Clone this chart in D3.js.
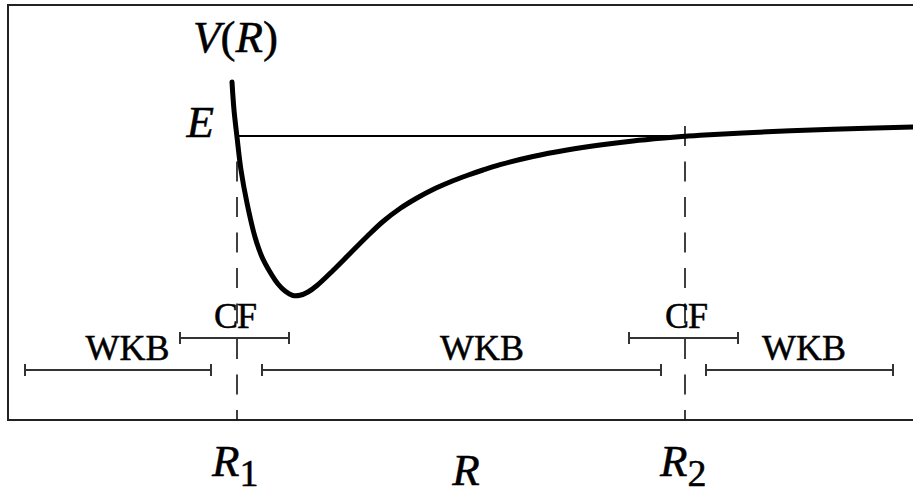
<!DOCTYPE html>
<html>
<head>
<meta charset="utf-8">
<script src="https://cdn.jsdelivr.net/npm/d3@7/dist/d3.min.js"></script>
<style>
  html, body { margin: 0; padding: 0; background: #fff; }
  svg { display: block; }
  svg text { font-family: "Liberation Serif", "Times New Roman", serif; fill: #000; stroke: #000; stroke-width: 0.5px; }
</style>
</head>
<body>
<script>
// Potential curve V(R): sampled points (R, V), energy level E = 0
const rValues = [2.24, 2.26, 2.29, 2.33, 2.39, 2.47, 2.54, 2.62, 2.70, 2.77, 2.85, 2.92, 3.00,
  3.09, 3.25, 3.42, 3.59, 3.75, 3.92, 4.09, 4.25, 4.42, 4.59, 4.75, 4.92, 5.25, 5.59, 5.92, 6.25,
  6.59, 6.77, 6.92, 7.59, 8.25, 9.05];
const vValues = [0.54, 0.26, -0.01, -0.34, -0.67, -1.01, -1.21, -1.36, -1.48, -1.55, -1.595,
  -1.593, -1.56, -1.495, -1.345, -1.175, -1.005, -0.855, -0.725, -0.62, -0.535, -0.46, -0.395,
  -0.34, -0.287, -0.205, -0.14, -0.09, -0.05, -0.018, -0.003, 0.008, 0.042, 0.067, 0.09];
const energy = 0;

// Classical turning points
const turningNames = ["1", "2"];
const turningR = [2.29, 6.77];

// Validity ranges of the approximations
const rangeLabels = ["WKB", "CF", "WKB", "CF", "WKB"];
const rangeStart = [0.17, 1.72, 2.54, 6.21, 6.98];
const rangeEnd = [2.03, 2.81, 6.53, 7.30, 8.85];
const rangeLabelR = [1.195, 2.27, 4.74, 6.78, 7.96];
const rangeLevel = [-2.34, -2.02, -2.34, -2.02, -2.34];

const W = 913, H = 495;
const x = d3.scaleLinear().domain([0, 9.05]).range([8, 913]);
const y = d3.scaleLinear().domain([-2.84, 1.31]).range([420, 5]);

const svg = d3.select("body").append("svg")
  .attr("width", W).attr("height", H);

// frame (open on the right)
svg.append("path")
  .attr("d", `M${x.range()[1] + 5},${y.range()[1]} H${x.range()[0]} V${y.range()[0]} H${x.range()[1] + 5}`)
  .attr("fill", "none").attr("stroke", "#222").attr("stroke-width", 2);

// dashed verticals at the turning points
svg.selectAll("line.turn").data(turningR).join("line")
  .attr("class", "turn")
  .attr("x1", d => x(d)).attr("x2", d => x(d))
  .attr("y1", y(0.1)).attr("y2", y.range()[0])
  .attr("stroke", "#111").attr("stroke-width", 1.6)
  .attr("stroke-dasharray", "20,15.5");

// energy level between the turning points
svg.append("line")
  .attr("x1", x(turningR[0])).attr("x2", x(turningR[1]))
  .attr("y1", y(energy)).attr("y2", y(energy))
  .attr("stroke", "#000").attr("stroke-width", 2);

// potential curve
const pts = rValues.map((r, i) => [r, vValues[i]]);
svg.append("path")
  .datum(pts)
  .attr("d", d3.line().x(d => x(d[0])).y(d => y(d[1])).curve(d3.curveCatmullRom.alpha(0.5)))
  .attr("fill", "none").attr("stroke", "#000").attr("stroke-width", 5)
  .attr("stroke-linecap", "round").attr("stroke-linejoin", "round");

// range brackets
const brackets = svg.append("g").attr("stroke", "#333").attr("stroke-width", 2);
rangeLabels.forEach((lab, i) => {
  const yy = y(rangeLevel[i]);
  brackets.append("line").attr("x1", x(rangeStart[i])).attr("x2", x(rangeEnd[i]))
    .attr("y1", yy).attr("y2", yy);
  [rangeStart[i], rangeEnd[i]].forEach(r => {
    brackets.append("line").attr("x1", x(r)).attr("x2", x(r))
      .attr("y1", yy - 6).attr("y2", yy + 6);
  });
  svg.append("text")
    .attr("x", x(rangeLabelR[i])).attr("y", yy - 10)
    .attr("text-anchor", "middle")
    .attr("font-size", 36)
    .attr("letter-spacing", lab === "CF" ? -1 : 0)
    .text(lab);
});

// axis label V(R)
const vt = svg.append("text").attr("x", 193).attr("y", 52).attr("font-size", 45);
vt.append("tspan").attr("font-style", "italic").text("V");
vt.append("tspan").text("(");
vt.append("tspan").attr("font-style", "italic").text("R");
vt.append("tspan").text(")");

// energy label
svg.append("text").attr("x", x(turningR[0]) - 23).attr("y", y(energy) + 1)
  .attr("text-anchor", "end").attr("font-size", 45).attr("font-style", "italic").text("E");

// turning point labels
turningR.forEach((r, i) => {
  const t = svg.append("text").attr("x", x(r) - 25).attr("y", 476).attr("font-size", 45);
  t.append("tspan").attr("font-style", "italic").text("R");
  t.append("tspan").attr("font-size", 38).attr("dy", 10).text(turningNames[i]);
});

// abscissa label
svg.append("text").attr("x", (x(turningR[0]) + x(turningR[1])) / 2 + 5).attr("y", 485)
  .attr("text-anchor", "middle").attr("font-size", 45).attr("font-style", "italic").text("R");
</script>
</body>
</html>
